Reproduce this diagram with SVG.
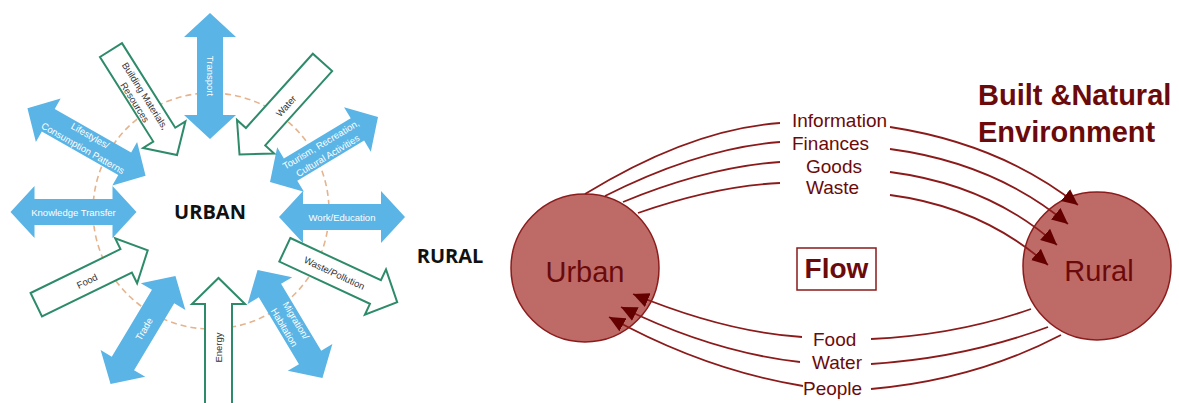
<svg xmlns="http://www.w3.org/2000/svg" xmlns:xlink="http://www.w3.org/1999/xlink" width="1179" height="403" viewBox="0 0 1179 403">
<style>
.blue{fill:#5AB4E5;stroke:none}
.out{fill:#ffffff;stroke:#2E8B6A;stroke-width:2;stroke-linejoin:miter}
.wt{font-family:"Liberation Sans",Arial,sans-serif;font-size:9.5px;fill:#ffffff;text-anchor:middle}
.dt{font-family:"Liberation Sans",Arial,sans-serif;font-size:9.5px;fill:#333333;text-anchor:middle}
.big{font-family:"Open Sans","Liberation Sans",sans-serif;font-weight:700;font-size:20px;fill:#111111;text-anchor:middle}
.circ{fill:#BE6B68;stroke:#8B1C1C;stroke-width:1.5}
.rt{font-family:"Liberation Sans",Arial,sans-serif;fill:#6B0A0A}
.ln{fill:none;stroke:#8B1A1A;stroke-width:1.8}
</style>
<defs>
<polygon id="dbl" points="-63,0 -39,-26 -39,-13 39,-13 39,-26 63,0 39,26 39,13 -39,13 -39,26"/>
<polygon id="dblL" points="-68,0 -44,-25 -44,-13 44,-13 44,-25 68,0 44,25 44,13 -44,13 -44,25"/>
<polygon id="sgl" points="-62,-13 38,-13 38,-25 62,0 38,25 38,13 -62,13"/>
<marker id="ah" markerUnits="userSpaceOnUse" markerWidth="17" markerHeight="16" refX="16" refY="8" orient="auto">
<path d="M0,0.5 L16,8 L0,15.5 z" fill="#650000"/>
</marker>
</defs>
<rect width="1179" height="403" fill="#ffffff"/>

<!-- LEFT DIAGRAM -->
<g id="ring"><circle cx="211" cy="211" r="118" fill="none" stroke="#E5B48E" stroke-width="1.6" stroke-dasharray="6 4"/></g>

<g id="transport"><use href="#dbl" class="blue" transform="translate(210,76) rotate(90)"/><text class="wt" transform="translate(210,76) rotate(90)" y="3.5">Transport</text></g>
<g id="knowledge"><use href="#dbl" class="blue" transform="translate(73.5,212)"/><text class="wt" x="73.5" y="215.5">Knowledge Transfer</text></g>
<g id="work"><use href="#dbl" class="blue" transform="translate(342,217)"/><text class="wt" x="342" y="220.5">Work/Education</text></g>
<g id="lifestyles"><use href="#dblL" class="blue" transform="translate(86.5,142) rotate(29.7)"/><text class="wt" transform="translate(86.5,142) rotate(29.7)"><tspan x="0" y="-4">Lifestyles/</tspan><tspan x="0" y="10.5">Consumption Patterns</tspan></text></g>
<g id="tourism"><use href="#dbl" class="blue" transform="translate(324,149.5) rotate(-31)"/><text class="wt" transform="translate(324,149.5) rotate(-31)"><tspan x="0" y="-2.5">Tourism, Recreation,</tspan><tspan x="0" y="10.5">Cultural Activities</tspan></text></g>
<g id="trade"><use href="#dbl" class="blue" transform="translate(143,330) rotate(-59)"/><text class="wt" transform="translate(144,329) rotate(-59)" y="3.5">Trade</text></g>
<g id="migration"><use href="#dbl" class="blue" transform="translate(290,324) rotate(59)"/><text class="wt" transform="translate(290,324) rotate(59)"><tspan x="0" y="-3.5">Migration/</tspan><tspan x="0" y="10">Habitation</tspan></text></g>

<g id="building"><use href="#sgl" class="out" transform="translate(144,102.5) rotate(57.8)"/><text class="dt" transform="translate(144,102.5) rotate(57.8)"><tspan x="-5" y="-1">Building Materials,</tspan><tspan x="-5" y="11">Resources</tspan></text></g>
<g id="water"><use href="#sgl" class="out" transform="translate(281,108.5) rotate(132)"/><text class="dt" transform="translate(286,106) rotate(-48)" y="3.5">Water</text></g>
<g id="food"><use href="#sgl" class="out" transform="translate(92,277.5) rotate(-26)"/><text class="dt" transform="translate(87,281) rotate(-26)" y="3.5">Food</text></g>
<g id="waste"><use href="#sgl" class="out" transform="translate(341,276) rotate(25)"/><text class="dt" transform="translate(334.5,273) rotate(25)" y="3.5">Waste/Pollution</text></g>
<g id="energy"><polygon class="out" points="205,410 205,304 192,304 218.5,278 245,304 232,304 232,410"/><text class="dt" transform="translate(218.5,347.5) rotate(-90)" y="3.5">Energy</text></g>

<g id="urban-label"><text class="big" x="210" y="219">URBAN</text></g>
<g id="rural-label"><text class="big" x="450" y="263">RURAL</text></g>

<!-- RIGHT DIAGRAM -->
<g id="urban"><circle class="circ" cx="585" cy="268" r="74"/><text class="rt" x="585" y="282" font-size="29" text-anchor="middle">Urban</text></g>
<g id="rural"><circle class="circ" cx="1097" cy="266" r="74"/><text class="rt" x="1099" y="281" font-size="29" text-anchor="middle">Rural</text></g>
<g id="flow"><rect x="797" y="248" width="79" height="42" fill="#ffffff" stroke="#8B1A1A" stroke-width="1.5"/><text class="rt" x="836.5" y="278" font-size="28" font-weight="700" text-anchor="middle">Flow</text></g>
<g id="env"><text class="rt" font-size="29" font-weight="700"><tspan x="978" y="105">Built &amp;Natural</tspan><tspan x="978" y="142">Environment</tspan></text></g>

<g id="connectors">
<path class="ln" d="M585,194 Q691,129 780,123"/>
<path class="ln" d="M605,196 Q700,148 780,142"/>
<path class="ln" d="M623,202 Q708,167 780,162"/>
<path class="ln" d="M638,213 Q715,186 780,183"/>
<path class="ln" marker-end="url(#ah)" d="M890,127 Q1001,144 1078,205"/>
<path class="ln" marker-end="url(#ah)" d="M890,149 Q995,163 1068,224"/>
<path class="ln" marker-end="url(#ah)" d="M890,172 Q990,185 1057,245"/>
<path class="ln" marker-end="url(#ah)" d="M890,195 Q982,207 1048,265"/>
<path class="ln" d="M871,339 Q957,335 1031,309"/>
<path class="ln" d="M871,364 Q965,358 1048,327"/>
<path class="ln" d="M871,389 Q975,380 1061,335"/>
<path class="ln" marker-end="url(#ah)" d="M802,337 Q725,332 633,294"/>
<path class="ln" marker-end="url(#ah)" d="M800,362 Q712,352 621,307"/>
<path class="ln" marker-end="url(#ah)" d="M803,386 Q705,370 609,317"/>
</g>

<g id="labels" class="rt" font-size="19">
<text x="792" y="127">Information</text>
<text x="792" y="150">Finances</text>
<text x="806" y="173">Goods</text>
<text x="806" y="194">Waste</text>
<text x="813" y="346">Food</text>
<text x="812" y="369">Water</text>
<text x="803" y="395">People</text>
</g>
</svg>
